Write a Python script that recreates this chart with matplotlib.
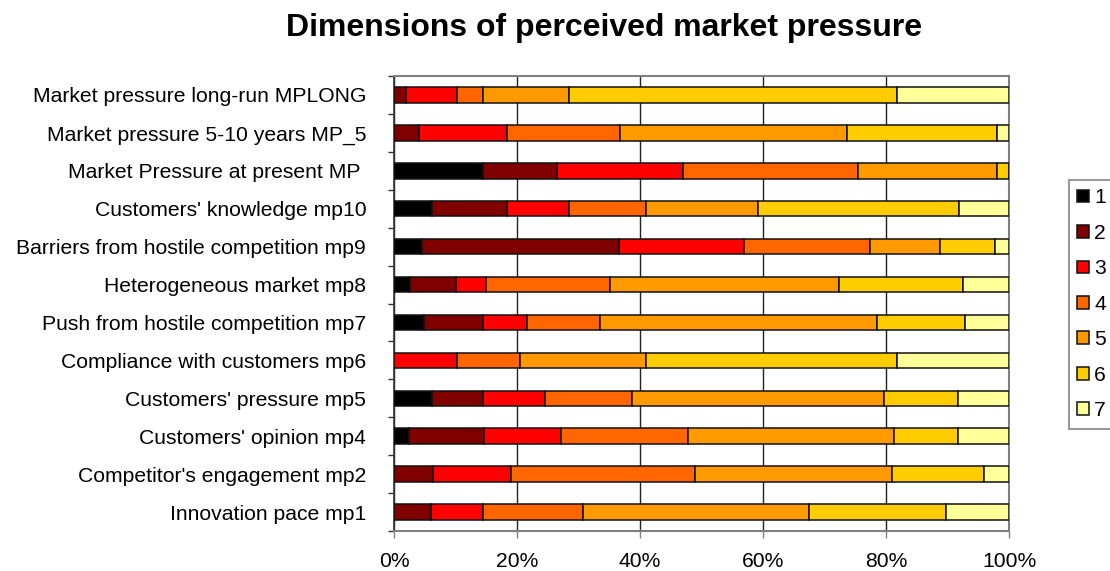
import numpy as np
import matplotlib
matplotlib.use("Agg")
import matplotlib.pyplot as plt
from matplotlib.ticker import FixedLocator, PercentFormatter

plt.rcParams['font.family'] = ['Liberation Sans', 'DejaVu Sans']

# categories, top to bottom as in the chart
categories = [
    "Market pressure long-run MPLONG",
    "Market pressure 5-10 years MP_5",
    "Market Pressure at present MP ",
    "Customers' knowledge mp10",
    "Barriers from hostile competition mp9",
    "Heterogeneous market mp8",
    "Push from hostile competition mp7",
    "Compliance with customers mp6",
    "Customers' pressure mp5",
    "Customers' opinion mp4",
    "Competitor's engagement mp2",
    "Innovation pace mp1",
]

# share (%) of answers 1..7 for each category, same order as above
s1 = [0.0, 0.0, 14.5, 6.2, 4.6, 2.6, 4.8, 0.0, 6.2, 2.4, 0.0, 0.0]
s2 = [2.0, 4.1, 12.0, 12.1, 32.0, 7.4, 9.6, 0.0, 8.2, 12.3, 6.3, 6.0]
s3 = [8.3, 14.2, 20.5, 10.2, 20.3, 4.9, 7.3, 10.3, 10.2, 12.4, 12.8, 8.4]
s4 = [4.1, 18.5, 28.5, 12.4, 20.5, 20.3, 11.8, 10.2, 14.1, 20.7, 29.8, 16.3]
s5 = [14.1, 36.8, 22.6, 18.3, 11.3, 37.2, 45.0, 20.4, 40.9, 33.5, 32.1, 36.7]
s6 = [53.3, 24.5, 1.9, 32.6, 9.1, 20.2, 14.4, 40.9, 12.1, 10.4, 14.9, 22.4]
s7 = [18.2, 1.9, 0.0, 8.2, 2.2, 7.4, 7.1, 18.2, 8.3, 8.3, 4.1, 10.2]

series = [s1, s2, s3, s4, s5, s6, s7]
series_names = ["1", "2", "3", "4", "5", "6", "7"]
colors = ["#000000", "#800000", "#FF0000", "#FF6600", "#FF9900", "#FFCC00", "#FFFF99"]

fig = plt.figure(figsize=(11.1, 5.71), dpi=100)
ax = fig.add_axes([394 / 1110, 1 - 531 / 571, 615 / 1110, 455 / 571])

n = len(categories)
y = np.arange(n)[::-1]
left = np.zeros(n)
for vals, name, col in zip(series, series_names, colors):
    vals = np.array(vals)
    ax.barh(y, vals, left=left, height=0.41, color=col, edgecolor="#111111",
            linewidth=1.1, label=name, zorder=3)
    left += vals

ax.set_xlim(0, 100)
ax.set_ylim(-0.5, n - 0.5)

ax.set_xticks([0, 20, 40, 60, 80, 100])
ax.xaxis.set_major_formatter(PercentFormatter(decimals=0))
ax.tick_params(axis="x", direction="out", length=5, width=1, color="#808080",
               pad=10, labelsize=15.2)

ax.set_yticks(y)
ax.set_yticklabels(categories)
ax.yaxis.set_minor_locator(FixedLocator(np.arange(-0.5, n, 1.0)))
ax.tick_params(axis="y", which="major", length=0, pad=20, labelsize=15.2)
ax.tick_params(axis="y", which="minor", direction="out", length=4, width=1,
               color="#333333")

ax.grid(axis="x", color="#222222", linewidth=1.0, zorder=0)
for side in ["top", "right", "bottom"]:
    ax.spines[side].set_color("#808080")
    ax.spines[side].set_linewidth(1.5)
ax.spines["left"].set_color("#333333")
ax.spines["left"].set_linewidth(1.2)

fig.text(604 / 1110, 1 - 28 / 571, "Dimensions of perceived market pressure",
         ha="center", va="center", fontsize=23, fontweight="bold")

leg = fig.legend(loc="upper left", bbox_to_anchor=(1069 / 1110, 1 - 180 / 571),
                 fontsize=15.2, frameon=True, fancybox=False, handlelength=0.55,
                 handleheight=0.55, handletextpad=0.25, labelspacing=0.78,
                 borderpad=0.4, borderaxespad=0)
leg.get_frame().set_edgecolor("#808080")
leg.get_frame().set_linewidth(1.5)

fig.savefig("out.png", dpi=100)
